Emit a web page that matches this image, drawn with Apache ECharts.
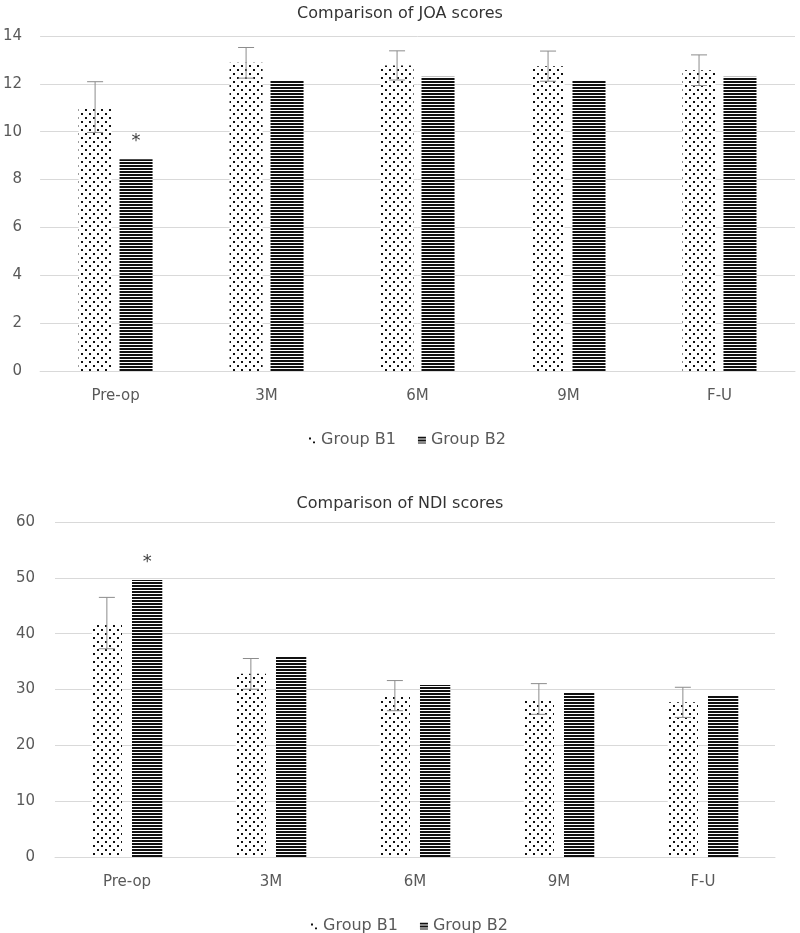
<!doctype html>
<html lang="en">
<head>
    <meta charset="UTF-8">
    <title>Comparison of JOA and NDI scores</title>
    <script src="https://cdn.jsdelivr.net/npm/echarts@6.0.0/dist/echarts.min.js"></script>
    <style>
        html, body { margin: 0; padding: 0; background: #fff; }
        #chart { width: 800px; height: 933px; }
    </style>
</head>
<body>
<div id="chart"></div>
<script>
    // data
    const categories = ['Pre-op', '3M', '6M', '9M', 'F-U'];
    const joaB1 = [11.03, 12.88, 12.77, 12.74, 12.57];
    const joaB1Err = [1.06, 0.64, 0.61, 0.63, 0.64];
    const joaB2 = [8.85, 12.16, 12.3, 12.15, 12.3];
    const joaMark = ['*', '', '', '', ''];
    const ndiB1 = [41.9, 32.8, 28.9, 28.3, 27.7];
    const ndiB1Err = [4.6, 2.75, 2.7, 2.75, 2.7];
    const ndiB2 = [49.6, 35.95, 30.8, 29.5, 28.9];
    const ndiMark = ['*', '', '', '', ''];
    const joaTicks = { min: 0, max: 14, interval: 2 };
    const ndiTicks = { min: 0, max: 60, interval: 10 };

    const font = 'DejaVu Sans';
    const gridColor = '#d9d9d9';
    const labelColor = '#595959';

    function makeDots() {
        const c = document.createElement('canvas');
        c.width = 8; c.height = 8;
        const ctx = c.getContext('2d');
        ctx.fillStyle = '#fff';
        ctx.fillRect(0, 0, 8, 8);
        ctx.fillStyle = '#111';
        ctx.fillRect(1, 1, 2, 2);
        ctx.fillRect(5, 5, 2, 2);
        return c;
    }

    function makeLines() {
        const c = document.createElement('canvas');
        c.width = 4; c.height = 3;
        const ctx = c.getContext('2d');
        ctx.fillStyle = '#fff';
        ctx.fillRect(0, 0, 4, 3);
        ctx.fillStyle = '#111';
        ctx.fillRect(0, 0, 4, 2);
        return c;
    }

    const dotFill = { image: makeDots(), repeat: 'repeat' };
    const lineFill = { image: makeLines(), repeat: 'repeat' };

    const layouts = [
        { catGap: 0.51, gap: 0.24 },
        { catGap: 0.51, gap: 0.33 }
    ];

    function errorBars(gridIdx, means, errs) {
        const lay = layouts[gridIdx];
        return {
            type: 'custom',
            name: 'err' + gridIdx,
            xAxisIndex: gridIdx,
            yAxisIndex: gridIdx,
            z: 5,
            silent: true,
            data: means.map((m, i) => [i, m, errs[i]]),
            renderItem: (params, api) => {
                const x = api.value(0), y = api.value(1), e = api.value(2);
                const band = api.size([1, 0])[0];
                const bw = band * (1 - lay.catGap) / (2 + lay.gap);
                const cx = api.coord([x, y])[0] - bw * (1 + lay.gap) / 2;
                const top = api.coord([x, y + e])[1];
                const bot = api.coord([x, y - e])[1];
                const half = 8;
                const st = { stroke: '#8c8c8c', lineWidth: 1 };
                return {
                    type: 'group',
                    children: [
                        { type: 'line', shape: { x1: cx, y1: top, x2: cx, y2: bot }, style: st },
                        { type: 'line', shape: { x1: cx - half, y1: top, x2: cx + half, y2: top }, style: st },
                        { type: 'line', shape: { x1: cx - half, y1: bot, x2: cx + half, y2: bot }, style: st }
                    ]
                };
            }
        };
    }

    function barSeries(gridIdx, name, values, fill, marks) {
        const lay = layouts[gridIdx];
        const s = {
            type: 'bar',
            name: name,
            xAxisIndex: gridIdx,
            yAxisIndex: gridIdx,
            data: values,
            barGap: (lay.gap * 100) + '%',
            barCategoryGap: (lay.catGap * 100) + '%',
            itemStyle: { color: fill },
            emphasis: { disabled: true }
        };
        if (marks) {
            s.label = {
                show: true,
                position: 'top',
                distance: 9,
                formatter: p => marks[p.dataIndex],
                fontFamily: font,
                fontSize: 18,
                color: '#404040'
            };
        }
        return s;
    }

    function xAxis(gridIdx) {
        return {
            type: 'category',
            gridIndex: gridIdx,
            data: categories,
            axisLine: { lineStyle: { color: gridColor } },
            axisTick: { show: false },
            axisLabel: { color: labelColor, fontFamily: font, fontSize: 15, margin: 18 }
        };
    }

    function yAxis(gridIdx, ticks) {
        return {
            type: 'value',
            gridIndex: gridIdx,
            min: ticks.min,
            max: ticks.max,
            interval: ticks.interval,
            axisLine: { show: false },
            axisTick: { show: false },
            splitLine: { lineStyle: { color: gridColor } },
            axisLabel: { color: labelColor, fontFamily: font, fontSize: 15, margin: gridIdx ? 20 : 18 }
        };
    }

    function legend(top, left) {
        return {
            top: top,
            left: left,
            itemWidth: 8,
            itemHeight: 7,
            itemGap: 22,
            selectedMode: false,
            textStyle: { color: labelColor, fontFamily: font, fontSize: 16 },
            data: [
                { name: 'Group B1', icon: 'rect', itemStyle: { color: dotFill } },
                { name: 'Group B2', icon: 'rect', itemStyle: { color: lineFill } }
            ]
        };
    }

    const chart = echarts.init(document.getElementById('chart'), null, { renderer: 'canvas' });
    chart.setOption({
        animation: false,
        backgroundColor: '#fff',
        title: [
            { text: 'Comparison of JOA scores', left: 'center', top: 1,
              textStyle: { fontFamily: font, fontSize: 16, fontWeight: 'normal', color: '#333' } },
            { text: 'Comparison of NDI scores', left: 'center', top: 491,
              textStyle: { fontFamily: font, fontSize: 16, fontWeight: 'normal', color: '#333' } }
        ],
        legend: [legend(427, 303), legend(913, 305)],
        grid: [
            { left: 40, right: 5, top: 36, height: 335 },
            { left: 55, right: 25, top: 522, height: 335 }
        ],
        xAxis: [xAxis(0), xAxis(1)],
        yAxis: [yAxis(0, joaTicks), yAxis(1, ndiTicks)],
        series: [
            barSeries(0, 'Group B1', joaB1, dotFill),
            barSeries(0, 'Group B2', joaB2, lineFill, joaMark),
            errorBars(0, joaB1, joaB1Err),
            barSeries(1, 'Group B1', ndiB1, dotFill),
            barSeries(1, 'Group B2', ndiB2, lineFill, ndiMark),
            errorBars(1, ndiB1, ndiB1Err)
        ]
    });
</script>
</body>
</html>
